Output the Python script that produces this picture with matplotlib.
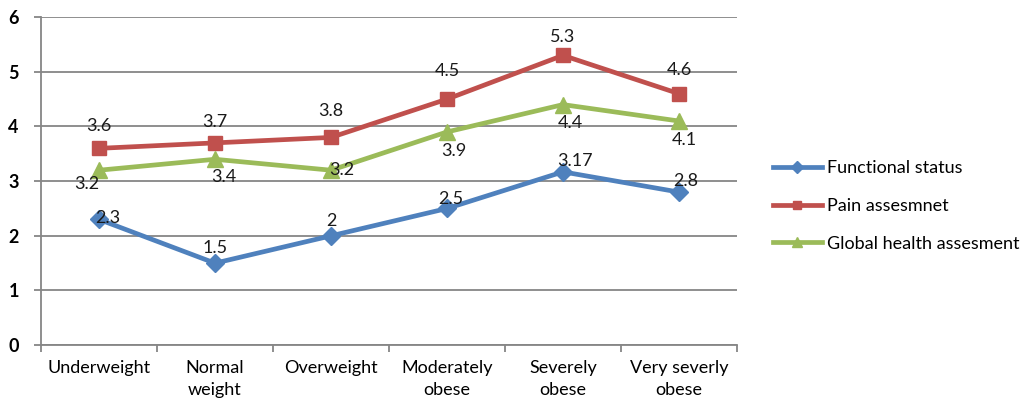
import numpy as np
import matplotlib.pyplot as plt

categories = ["Underweight", "Normal\nweight", "Overweight", "Moderately\nobese", "Severely\nobese", "Very severly\nobese"]
functional = [2.3, 1.5, 2, 2.5, 3.17, 2.8]
pain = [3.6, 3.7, 3.8, 4.5, 5.3, 4.6]
global_health = [3.2, 3.4, 3.2, 3.9, 4.4, 4.1]
functional_txt = ["2.3", "1.5", "2", "2.5", "3.17", "2.8"]
pain_txt = ["3.6", "3.7", "3.8", "4.5", "5.3", "4.6"]
global_txt = ["3.2", "3.4", "3.2", "3.9", "4.4", "4.1"]

plt.rcParams['font.family'] = ['Lato', 'DejaVu Sans']

fig = plt.figure(figsize=(10.34, 4.08), dpi=100)
ax = fig.add_axes([0.0397, 0.154, 0.673, 0.804])

x = np.arange(len(categories))
grey = '#868686'
fs = 13

l1, = ax.plot(x, functional, color='#4F81BD', lw=3.4, marker='D', ms=9.5, label='Functional status', zorder=3)
l2, = ax.plot(x, pain, color='#C0504D', lw=3.4, marker='s', ms=10.5, label='Pain assesmnet', zorder=3)
l3, = ax.plot(x, global_health, color='#9BBB59', lw=3.4, marker='^', ms=11.5, label='Global health assesment', zorder=3)

# label offsets in points
off_f = [(6, 1), (0, 11), (0, 11), (3, 7), (9, 8), (5, 8)]
off_p = [(0, 16), (0, 15), (0, 19), (0, 20), (0, 13), (0, 17)]
off_g = [(-9, -10), (6, -13), (8, 0), (5, -14), (5, -13), (4, -14)]
for vals, txts, offs in [(functional, functional_txt, off_f), (pain, pain_txt, off_p), (global_health, global_txt, off_g)]:
    for i in range(len(vals)):
        ax.annotate(txts[i], (x[i], vals[i]), xytext=offs[i], textcoords='offset points',
                    ha='center', va='center', fontsize=fs, color='#1a1a1a', zorder=4)

ax.set_xlim(-0.5, len(categories) - 0.5)
ax.set_ylim(0, 6)
ax.set_yticks(range(0, 7))
ax.set_yticklabels([str(v) for v in range(0, 7)], fontsize=fs, fontweight='bold')
ax.yaxis.grid(True, color=grey, lw=1.3)
ax.set_axisbelow(True)

ax.set_xticks(np.arange(-0.5, len(categories), 1.0))
ax.set_xticklabels([])
ax.set_xticks(x, minor=True)
ax.set_xticklabels(categories, minor=True, fontsize=fs, linespacing=1.4)
ax.tick_params(axis='x', which='minor', length=0, pad=11)
ax.tick_params(axis='x', which='major', length=5, color=grey, width=1.3)
ax.tick_params(axis='y', length=5, color=grey, width=1.3, pad=11)

for s in ['top', 'right']:
    ax.spines[s].set_visible(False)
for s in ['left', 'bottom']:
    ax.spines[s].set_color(grey)
    ax.spines[s].set_linewidth(1.3)

fig.legend(handles=[l1, l2, l3], loc='upper left', bbox_to_anchor=(0.7476, 0.607), frameon=False,
           fontsize=fs, handlelength=2.7, handletextpad=0.3, labelspacing=1.2, markerscale=0.6,
           borderaxespad=0, borderpad=0)

fig.savefig('out.png', dpi=100)
